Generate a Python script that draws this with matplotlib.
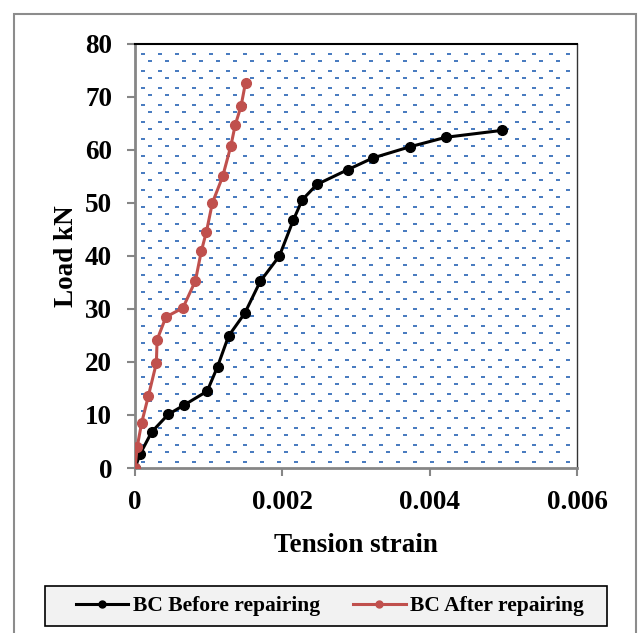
import numpy as np
import matplotlib
matplotlib.use("Agg")
import matplotlib.pyplot as plt
from matplotlib.patches import Rectangle

# ---------------------------
# Data
# ---------------------------
before_strain = [0, 0.000068, 0.000227, 0.00045, 0.00067, 0.00098, 0.00112, 0.00127,
                 0.00149, 0.0017, 0.00196, 0.00215, 0.00227, 0.00247, 0.00289,
                 0.00323, 0.00373, 0.00422, 0.00498]
before_load = [0, 2.6, 6.8, 10.1, 11.9, 14.5, 19.1, 24.9, 29.2, 35.2, 40.0, 46.8,
               50.6, 53.5, 56.3, 58.5, 60.6, 62.4, 63.7]

after_strain = [0, 0.00003, 0.00009, 0.00018, 0.00029, 0.0003, 0.00042, 0.00065,
                0.00082, 0.0009, 0.00097, 0.00105, 0.00119, 0.0013, 0.00136,
                0.00144, 0.0015]
after_load = [0, 4.0, 8.5, 13.5, 19.8, 24.2, 28.5, 30.2, 35.3, 40.9, 44.6, 50.0,
              55.0, 60.7, 64.7, 68.3, 72.7]

x_ticks = [0, 0.002, 0.004, 0.006]
x_tick_labels = ["0", "0.002", "0.004", "0.006"]
y_ticks = [0, 10, 20, 30, 40, 50, 60, 70, 80]

plt.rcParams["font.family"] = ["Liberation Serif", "DejaVu Serif"]
plt.rcParams["font.weight"] = "bold"

W, H = 641, 633
fig = plt.figure(figsize=(W / 100, H / 100), dpi=100)

# outer chart border
fig.patches.append(Rectangle((14 / W, -0.01), (636 - 14) / W, (H - 14) / H + 0.01,
                             transform=fig.transFigure, fill=False,
                             edgecolor="#8c8c8c", linewidth=1.5))
# legend box (drawn separately: wide side padding, tight vertical padding)
fig.patches.append(Rectangle((45 / W, 1 - 626 / H), (607 - 45) / W, 40 / H,
                             transform=fig.transFigure, facecolor="#f2f2f2",
                             edgecolor="black", linewidth=1.2))

left, right, top, bottom = 135, 577, 44, 468
ax = fig.add_axes([left / W, 1 - bottom / H, (right - left) / W, (bottom - top) / H])

# ---------------------------
# Dotted plot-area fill (staggered blue dashes)
# ---------------------------
aw, ah = right - left, bottom - top
px = np.arange(8, aw, 17.0)
py = np.arange(10, ah, 17.0)
gx, gy = np.meshgrid(px, py)
gx2, gy2 = np.meshgrid(px + 7.3, py + 7)
dx = np.concatenate([gx.ravel(), gx2.ravel()])
dy = np.concatenate([gy.ravel(), gy2.ravel()])
keep = (dx < aw - 2) & (dy < ah - 2)
ax.scatter(dx[keep] / aw, 1 - dy[keep] / ah, transform=ax.transAxes,
           marker=[(-1, -0.5), (1, -0.5), (1, 0.5), (-1, 0.5)], s=6,
           color="#4a7cc0", linewidths=0, zorder=0, clip_on=True)

ax.plot(before_strain, before_load, color="black", lw=2.2, marker="o", ms=7,
        label="BC Before repairing", zorder=3)
ax.plot(after_strain, after_load, color="#c0504d", lw=2.2, marker="o", ms=7,
        label="BC After repairing", zorder=3)

ax.set_xlim(0, 0.006)
ax.set_ylim(0, 80)
ax.set_xticks(x_ticks)
ax.set_xticklabels(x_tick_labels)
ax.set_yticks(y_ticks)
ax.tick_params(axis="both", direction="out", length=5.5, width=1.5, color="#868686",
               labelsize=19.5)
ax.tick_params(axis="y", pad=11)
ax.tick_params(axis="x", pad=10)
for lab in ax.get_xticklabels() + ax.get_yticklabels():
    lab.set_fontweight("bold")

for s in ["left", "bottom"]:
    ax.spines[s].set_color("#868686")
    ax.spines[s].set_linewidth(2)
ax.spines["top"].set_color("black")
ax.spines["top"].set_linewidth(1.5)
ax.spines["right"].set_color("#333333")
ax.spines["right"].set_linewidth(1)

ax.set_xlabel("Tension strain", fontsize=19.5, fontweight="bold", labelpad=13)
ax.set_ylabel("Load kN", fontsize=19.5, fontweight="bold", labelpad=4)

leg = fig.legend(loc="center", bbox_to_anchor=(330 / W, 1 - 606 / H), ncol=2,
                 frameon=False, handlelength=2.45,
                 columnspacing=1.5, handletextpad=0.23, borderpad=0.2,
                 borderaxespad=0, prop={"weight": "bold", "size": 15.5})
for h in leg.legend_handles:
    h.set_markersize(5)

fig.savefig("out.png", dpi=100)
